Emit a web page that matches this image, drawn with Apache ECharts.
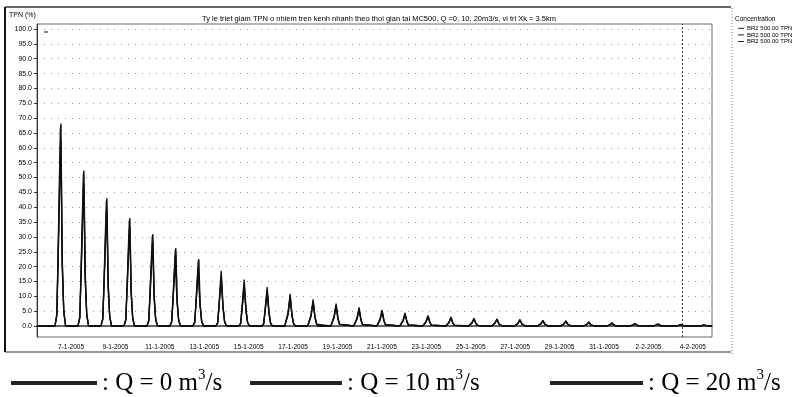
<!DOCTYPE html>
<html><head><meta charset="utf-8">
<script src="https://cdn.jsdelivr.net/npm/echarts@6/dist/echarts.min.js"></script>
<style>html,body{margin:0;padding:0;background:#fff}#c{width:793px;height:397px}</style>
</head><body><div id="c"></div>
<script>
// ---- data ----
const peakTimes = [
  '2005-01-06 13:10','2005-01-07 14:00','2005-01-08 14:50','2005-01-09 15:40','2005-01-10 16:30',
  '2005-01-11 17:20','2005-01-12 18:10','2005-01-13 19:00','2005-01-14 19:50','2005-01-15 20:40',
  '2005-01-16 21:30','2005-01-17 22:20','2005-01-18 23:10','2005-01-20 00:00','2005-01-21 00:50',
  '2005-01-22 01:40','2005-01-23 02:30','2005-01-24 03:20','2005-01-25 04:10','2005-01-26 05:00',
  '2005-01-27 05:50','2005-01-28 06:40','2005-01-29 07:30','2005-01-30 08:20','2005-01-31 09:10',
  '2005-02-01 10:00','2005-02-02 10:50','2005-02-03 11:40','2005-02-04 12:30'
];
const peaksQ0  = [68.2,52.3,43.0,36.3,30.9,26.2,22.5,19.2,16.1,13.5,11.2,9.3,7.8,6.5,5.6,4.6,3.7,3.1,2.7,2.5,2.3,2.0,1.8,1.4,1.1,0.9,0.8,0.6,0.4];
const peaksQ10 = [62.5,48.0,39.5,33.4,28.4,24.1,20.7,17.7,14.8,12.4,10.3,8.6,7.2,6.0,5.2,4.2,3.4,2.9,2.5,2.3,2.1,1.8,1.7,1.3,1.0,0.8,0.7,0.5,0.4];
const peaksQ20 = [57.0,44.0,36.2,30.6,26.0,22.1,19.0,16.2,13.6,11.4,9.5,7.9,6.6,5.5,4.8,3.9,3.1,2.6,2.3,2.1,1.9,1.7,1.5,1.2,0.9,0.7,0.6,0.5,0.3];
// pulse outline around each peak: [hours from peak, fraction of peak]
const pulseShape = [[-6.5,0],[-4.5,0.06],[-3,0.4],[-0.7,0.97],[0,1],[1.3,0.35],[3,0.08],[5,0]];
const startMark = [['2005-01-05 18:50',99],['2005-01-05 23:10',99]];
const xTickDates = ['2005-01-07','2005-01-09','2005-01-11','2005-01-13','2005-01-15','2005-01-17','2005-01-19',
  '2005-01-21','2005-01-23','2005-01-25','2005-01-27','2005-01-29','2005-01-31','2005-02-02','2005-02-04'];
const yTickValues = [0,5,10,15,20,25,30,35,40,45,50,55,60,65,70,75,80,85,90,95,100];
const seriesNames = ['Q = 0','Q = 10','Q = 20'];
const axisStart = '2005-01-05 11:15', axisEnd = '2005-02-04 20:40';
const markerTime = '2005-02-03 12:15';
const titleText = 'Ty le triet giam TPN o nhiem tren kenh nhanh theo thoi gian tai MC500, Q =0, 10, 20m3/s, vi tri Xk = 3.5km';

function ts(s){ const [d,t] = s.split(' '); const [Y,M,D] = d.split('-').map(Number); const [h,m] = (t||'00:00').split(':').map(Number); return new Date(Y,M-1,D,h,m).getTime(); }
function build(peaks){
  const d = [[ts(axisStart),0]];
  peakTimes.forEach((t,i)=>{ const tp = ts(t); pulseShape.forEach(([h,f])=>d.push([tp+h*3600000, +(peaks[i]*f).toFixed(2)])); });
  d.push([ts(axisEnd),0]);
  return d;
}
const allPeaks = [peaksQ0, peaksQ10, peaksQ20];

const chart = echarts.init(document.getElementById('c'), null, {renderer:'canvas'});
const lineCol = '#111';
const bottomLegend = (name, left, w) => ({
  data:[name], left:left, top:363, icon:'rect', itemWidth:w, itemHeight:4, selectedMode:false,
  itemStyle:{color:'#222'},
  formatter: n => ': ' + n + ' m{sup|3}/s',
  textStyle:{fontFamily:'Liberation Serif', fontSize:25, lineHeight:30, color:'#000',
    rich:{sup:{fontFamily:'Liberation Serif', fontSize:15, lineHeight:15, verticalAlign:'top', color:'#000'}}}
});
chart.setOption({
  animation:false,
  backgroundColor:'#fff',
  grid:{left:37, right:81, top:24, bottom:60, show:true, borderColor:'#444', borderWidth:0.8},
  xAxis:{type:'time', min:ts(axisStart), max:ts(axisEnd),
    axisLine:{show:true, lineStyle:{color:'#333', width:1.5}},
    axisTick:{show:false},
    splitLine:{show:false},
    axisLabel:{customValues:xTickDates.map(ts), formatter:'{d}-{M}-{yyyy}', fontSize:6.5, color:'#000', margin:7, fontFamily:'Liberation Sans', hideOverlap:false}
  },
  yAxis:{type:'value', min:-3.7, max:101.7,
    axisLine:{show:true, lineStyle:{color:'#333', width:1}},
    axisTick:{show:true, customValues:yTickValues, length:3, lineStyle:{color:'#333'}},
    axisLabel:{customValues:yTickValues, formatter:v=>v.toFixed(1), fontSize:7, color:'#000', margin:5, fontFamily:'Liberation Sans'},
    splitLine:{show:true, lineStyle:{color:'#9a9a9a', width:1, type:[1,6]}}
  },
  legend:[
    bottomLegend(seriesNames[0], 6, 86),
    bottomLegend(seriesNames[1], 245, 92),
    bottomLegend(seriesNames[2], 545, 93),
    {data:seriesNames, orient:'vertical', left:733, top:20, icon:'rect', itemWidth:6, itemHeight:1, itemGap:0,
     selectedMode:false, itemStyle:{color:'#222'}, formatter:()=> 'BR2 500.00 TPN',
     textStyle:{fontSize:6, lineHeight:6.6, color:'#000', fontFamily:'Liberation Sans', padding:[0,0,0,-2]}}
  ],
  series: seriesNames.map((n,i)=>({
    name:n, type:'line', data:build(allPeaks[i]), showSymbol:false, symbol:'none',
    color:lineCol, lineStyle:{color:lineCol, width:1.3}, z:3,
    markLine: i===0 ? {silent:true, symbol:'none', label:{show:false}, z:2,
      lineStyle:{color:'#333', type:[2,2], width:1}, data:[{xAxis:ts(markerTime)}]} : undefined
  })).concat([{name:'start', type:'line', data:startMark.map(p=>[ts(p[0]),p[1]]), showSymbol:false, symbol:'none',
    lineStyle:{color:lineCol, width:1.2}}]),
  graphic:[
    {type:'line', shape:{x1:5,y1:7,x2:5,y2:352}, style:{stroke:'#111', lineWidth:2}},
    {type:'line', shape:{x1:5,y1:7,x2:731,y2:7}, style:{stroke:'#333', lineWidth:1.3}},
    {type:'line', shape:{x1:5,y1:352,x2:731,y2:352}, style:{stroke:'#333', lineWidth:1.2}},
    {type:'line', shape:{x1:732,y1:8,x2:732,y2:356}, style:{stroke:'#777', lineWidth:1, lineDash:[1,2]}},
    {type:'text', x:9, y:12, style:{text:'TPN (%)', fontSize:7, fill:'#000', fontFamily:'Liberation Sans'}},
    {type:'text', x:379, y:15, style:{text:titleText, fontSize:7.5, fill:'#000', fontFamily:'Liberation Sans', textAlign:'center'}},
    {type:'text', x:735, y:16, style:{text:'Concentration', fontSize:6.5, fill:'#000', fontFamily:'Liberation Sans'}}
  ]
});
</script></body></html>
